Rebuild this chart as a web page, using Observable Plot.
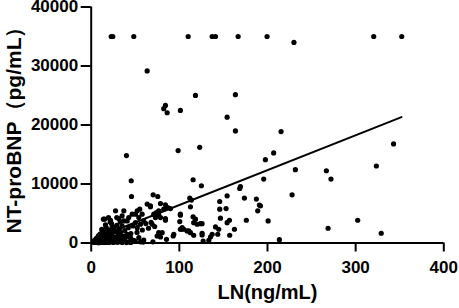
<!DOCTYPE html>
<html><head><meta charset="utf-8">
<script src="https://cdn.jsdelivr.net/npm/d3@7"></script>
<script src="https://cdn.jsdelivr.net/npm/@observablehq/plot@0.6"></script>
<style>html,body{margin:0;padding:0;background:#fff} svg{display:block} svg text{font-weight:bold !important}</style>
</head><body><div id="chart"></div>
<script>
// LN (ng/mL) values
const ln = [
  22.7,24.5,48.3,110,137.2,141,166.7,199.5,320.5,352.3,230,
  63.5,118.3,163.6,84.2,82.3,86.2,101.2,154.2,163.6,215.4,197.6,207,343,195.7,231.6,266.8,272,323.5,227.9,192,200.7,302.3,268.7,329,213.5,
  40,98.6,123.1,45.4,115.6,125,45.7,70.3,75.5,169.3,168.5,154.2,145.8,173.8,187.4,190.8,188.9,176,153,146.6,156.8,141,143.6,162.5,157.1,135.3,133.4,127,123.9,120.2,125.8,116.3,115.6,118.3,112.6,113.7,111.8,101.2,100.5,103.2,101.2,105,108.8,112.6,93,85.4,74.8,78.6,76.6,80.5,84.2,78.6,76.6,86.8,89.9,84.2,78.6,76.6,74,63.5,67.2,55.1,52.2,50.2,54,57.8,59.6,55.9,52.2,50.2,46.5,42.6,40.8,27.6,37,35.1,31.3,37,15.1,21.9,16.2,23.8,25.3,12.5,18.1,25.6,44.6,48.3,54,59.6,33.2,37,40.8,
  13.9,19.6,21.5,29,32.9,82.3,71,72.9,84.2,101.2,102.4,116.3,125.8,110.7,125.8,137.2,144.7,145.8,154.2,93.7,69.2,67.2,
  3,4,5,6,7,8,8,9,10,10,11,12,12,13,14,14,15,15,16,17,17,18,18,19,20,20,21,21,22,23,23,24,24,25,26,26,27,28,28,29,30,30,31,32,33,34,35,35,36,38,39,40,42,43,45,47,50,52,56,58,62,65,68,70,72,
  3,6,9,12,16,20,25,30,35,40,45,59
];
// NT-proBNP (pg/mL) values
const ntprobnp = [
  35000,35000,35000,35000,35000,35000,35000,35000,35000,35000,34000,
  29160,25020,25140,23320,22760,22080,22470,21330,19000,18890,14130,15270,16800,10840,12420,12250,10840,13050,8170,6300,3740,3860,2500,1650,560,
  14810,15660,16220,10550,10720,9700,7880,8170,7880,9580,9240,8000,7030,7610,7440,6420,5450,3860,5840,4200,3860,2720,1480,2330,1310,1020,460,340,3280,3180,1360,1310,4430,4030,6130,7270,7610,4710,3630,2600,2330,2330,2040,1750,1190,630,1190,1020,1750,1750,4140,4310,4770,6010,5840,6470,6690,5450,5160,6590,6130,5740,5450,4880,4310,4880,3740,3180,2600,3450,4880,4310,3740,5450,5450,4600,4140,3740,4030,3860,3060,2720,2500,1750,2040,2040,900,460,900,510,1750,1190,1480,
  4030,4310,3570,4310,3570,5740,4880,4310,3860,4880,2330,3450,3280,2040,1650,1480,2330,5740,3450,1480,3180,6300,
  200,500,100,800,300,1200,50,600,150,1500,900,300,2300,1100,500,100,1800,700,250,1300,2600,600,100,1000,2200,400,1500,150,800,3300,1800,300,1200,600,2600,150,1000,1900,400,3000,700,200,1400,2400,500,1000,2900,200,600,2100,300,1100,2600,200,1600,2900,300,1800,200,2200,3300,2500,3500,200,2800,
  100,150,80,120,100,90,100,120,100,80,100,150,120
];
// fitted regression line, read at its two ends
const fitLN = [4, 352];
const fitNT = [760, 21330];
const xTicks = [0, 100, 200, 300, 400];
const yTicks = [0, 10000, 20000, 30000, 40000];

const points = ln.map((x, i) => ({x, y: ntprobnp[i]}));
const fit = fitLN.map((x, i) => ({x, y: fitNT[i]}));
const font = "'Liberation Sans', Arial, sans-serif";

const chart = Plot.plot({
  width: 459,
  height: 308,
  marginLeft: 90.7,
  marginRight: 15.7,
  marginTop: 6.5,
  marginBottom: 65.5,
  x: {domain: [0, 400]},
  y: {domain: [0, 40000]},
  style: {fontFamily: font, background: "#fff", color: "#000", overflow: "visible", fontWeight: "bold"},
  marks: [
    Plot.axisX({ticks: xTicks, tickSize: 9, tickFormat: () => "", strokeWidth: 2, label: null}),
    Plot.axisY({ticks: yTicks, tickSize: 10, tickFormat: () => "", strokeWidth: 2, label: null}),
    Plot.text(xTicks, {x: d => d, text: d => String(d), frameAnchor: "bottom", lineAnchor: "top", dy: 18, fontSize: 17, fontWeight: "bold", fill: "#000"}),
    Plot.text(yTicks, {y: d => d, text: d => String(d), frameAnchor: "left", textAnchor: "end", dx: -13, fontSize: 17, fontWeight: "bold", fill: "#000"}),
    Plot.ruleX([0], {y1: 0, y2: 40000, stroke: "#000", strokeWidth: 2}),
    Plot.ruleY([0], {x1: 0, x2: 400, stroke: "#000", strokeWidth: 2}),
    Plot.dot(points, {x: "x", y: "y", r: 2.6, fill: "#000", stroke: "none"}),
    Plot.line(fit, {x: "x", y: "y", stroke: "#000", strokeWidth: 2}),
    Plot.text(["LN(ng/mL)"], {frameAnchor: "bottom", dy: 56, fontSize: 20, fontWeight: "bold", lineAnchor: "bottom", fill: "#000"}),
    Plot.text(["NT-proBNP（pg/mL）"], {frameAnchor: "left", textAnchor: "middle", dx: -77, rotate: -90, fontSize: 21, fontWeight: "bold", fill: "#000"})
  ]
});
document.getElementById("chart").appendChild(chart);
</script>
</body></html>
